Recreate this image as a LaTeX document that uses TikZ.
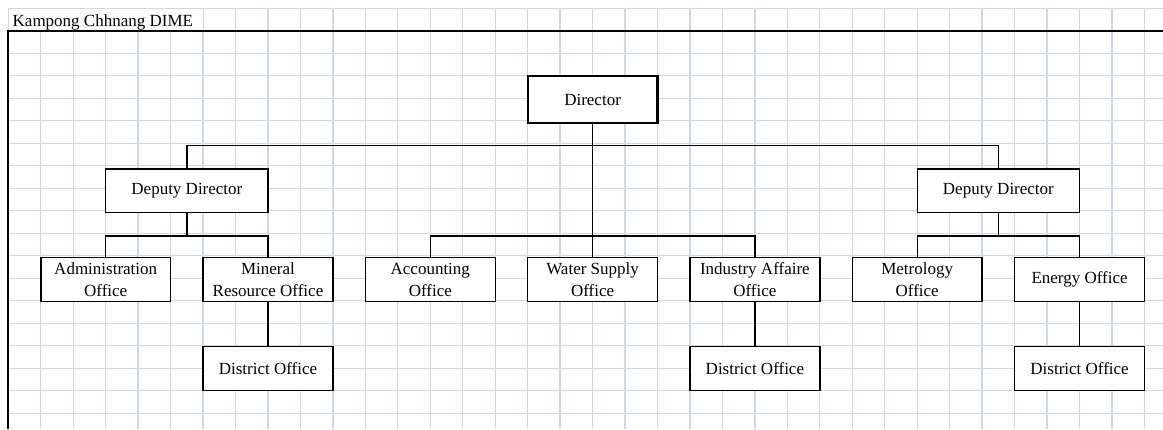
\documentclass[tikz,border=0pt]{standalone}
\usepackage{fontspec}
\setmainfont{Liberation Serif}
\definecolor{gridblue}{RGB}{208,215,229}
\newcommand\orgfont{\fontsize{17}{21.7}\selectfont}
\begin{document}
\begin{tikzpicture}[x=1pt,y=-1pt,
  gridline/.style={draw=gridblue, line width=1.3pt},
  border/.style={draw=black, line width=2pt},
  link/.style={draw=black, line width=1.4pt},
  unit/.style={draw=black, line width=1.4pt, fill=white, inner sep=0pt,
    align=center, font=\orgfont, minimum width=129.8pt, minimum height=43.8pt},
  headbox/.style={unit, line width=2.2pt, minimum height=47pt},
  deputybox/.style={unit, minimum width=162.3pt, minimum height=43.7pt}
]
\useasboundingbox (0,0) rectangle (1163,429);
\clip (0,0) rectangle (1163,429);

% sheet grid
\foreach \k in {0,...,35}
  \draw[gridline] ({8.3+32.46*\k},8.3) -- ({8.3+32.46*\k},429);
\foreach \j in {0,...,18}
  \draw[gridline] (8.3,{8.3+22.5*\j}) -- (1163,{8.3+22.5*\j});

% title cell
\fill[white] (9,9) rectangle (202.6,30.3);
\node[anchor=base west, inner sep=0pt, font=\orgfont] (title) at (12.5,26.7) {Kampong Chhnang DIME};

% frame
\draw[border] (8.3,429) -- (8.3,31) -- (1163,31);

% bus levels
\coordinate (topbus) at (0,145.7);
\coordinate (lowbus) at (0,236);

% boxes
\node[headbox]   (dir)  at (592.6,99.5)  {Director};
\node[deputybox] (depL) at (186.9,190.9) {Deputy Director};
\node[deputybox] (depR) at (998.4,190.9) {Deputy Director};

\node[unit] (adm) at (105.7,279.6)  {Administration\\Office};
\node[unit] (min) at (268,279.6)    {Mineral\\Resource Office};
\node[unit] (acc) at (430.3,279.6)  {Accounting\\Office};
\node[unit] (wat) at (592.6,279.6)  {Water Supply\\Office};
\node[unit] (ind) at (754.9,279.6)  {Industry Affaire\\Office};
\node[unit] (met) at (917.2,279.6)  {Metrology\\Office};
\node[unit] (ene) at (1079.6,279.6) {Energy Office};

\node[unit] (distA) at (268,368.5)    {District Office};
\node[unit] (distB) at (754.9,368.5)  {District Office};
\node[unit] (distC) at (1079.6,368.5) {District Office};

% connectors
\draw[link] (dir.south) -- (wat.north);
\draw[link] (depL.north) -- (depL.north |- topbus) -| (depR.north);

\draw[link] (depL.south) -- (depL.south |- lowbus);
\draw[link] (adm.north) -- (adm.north |- lowbus) -| (min.north);

\draw[link] (acc.north) -- (acc.north |- lowbus) -| (ind.north);

\draw[link] (depR.south) -- (depR.south |- lowbus);
\draw[link] (met.north) -- (met.north |- lowbus) -| (ene.north);

\draw[link] (min.south) -- (distA.north);
\draw[link] (ind.south) -- (distB.north);
\draw[link] (ene.south) -- (distC.north);
\end{tikzpicture}
\end{document}
